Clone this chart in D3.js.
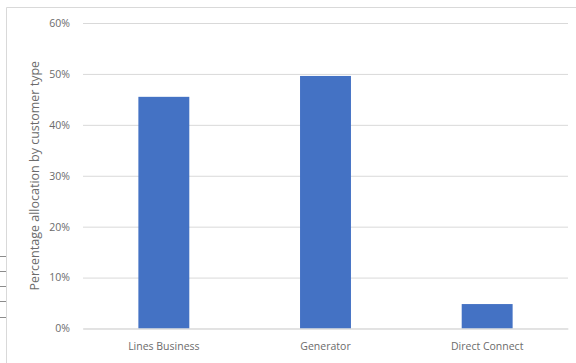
<!DOCTYPE html>
<html>
<head>
<meta charset="utf-8">
<script src="https://cdn.jsdelivr.net/npm/d3@7"></script>
<style>
  body { margin: 0; background: #fff; }
  text { font-family: "Open Sans", "Noto Sans", sans-serif; fill: #595959; }
</style>
</head>
<body>
<svg id="chart" width="576" height="363"></svg>
<script>
// data
let categories = ["Lines Business", "Generator", "Direct Connect"];
let allocation = [0.455, 0.496, 0.048];
let yTicks = [0, 0.1, 0.2, 0.3, 0.4, 0.5, 0.6];
let yTitle = "Percentage allocation by customer type";

let svg = d3.select("#chart");
let plotLeft = 83, plotRight = 568, plotTop = 23, plotBottom = 328.5;

// frame around the chart area
svg.append("line").attr("x1", 6.5).attr("x2", 576).attr("y1", 7.5).attr("y2", 7.5)
    .attr("stroke", "#d9d9d9");
svg.append("line").attr("x1", 6.5).attr("x2", 6.5).attr("y1", 7.5).attr("y2", 363)
    .attr("stroke", "#d9d9d9");
// small leftover marks at far left
[256, 271, 286, 301, 317].forEach(function(yy) {
    svg.append("line").attr("x1", 0).attr("x2", 6).attr("y1", yy + 0.5).attr("y2", yy + 0.5)
        .attr("stroke", "#8c8c8c");
});

let x = d3.scaleBand()
    .domain(categories)
    .range([plotLeft, plotRight])
    .paddingInner(0.685)
    .paddingOuter(0.3425);

let y = d3.scaleLinear()
    .domain([0, 0.6])
    .range([plotBottom, plotTop]);

// gridlines + labels
let yAxis = d3.axisLeft(y)
    .tickValues(yTicks)
    .tickFormat(d3.format(".0%"))
    .tickSize(-(plotRight - plotLeft))
    .tickPadding(13);

let gy = svg.append("g")
    .attr("transform", "translate(" + plotLeft + ",0)")
    .call(yAxis);
gy.select(".domain").remove();
gy.selectAll(".tick line").attr("stroke", "#d9d9d9");
gy.selectAll(".tick text").attr("font-size", 10.5).style("fill", "#6b6b6b");

// bars
svg.selectAll(".bar")
    .data(allocation)
    .enter()
    .append("rect")
    .attr("class", "bar")
    .attr("x", (d, i) => x(categories[i]))
    .attr("width", x.bandwidth())
    .attr("y", d => y(d))
    .attr("height", d => y(0) - y(d))
    .attr("fill", "#4472c4");

// category axis
let xAxis = d3.axisBottom(x).tickSize(0).tickPadding(14);
let gx = svg.append("g")
    .attr("transform", "translate(0," + plotBottom + ")")
    .call(xAxis);
gx.select(".domain").attr("stroke", "#d9d9d9");
gx.selectAll(".tick text").attr("font-size", 10.5).style("fill", "#6b6b6b");

// axis title
svg.append("text")
    .attr("transform", "translate(39," + (plotTop + plotBottom) / 2 + ") rotate(-90)")
    .attr("text-anchor", "middle")
    .attr("font-size", 12.5)
    .style("fill", "#6b6b6b")
    .text(yTitle);
</script>
</body>
</html>
